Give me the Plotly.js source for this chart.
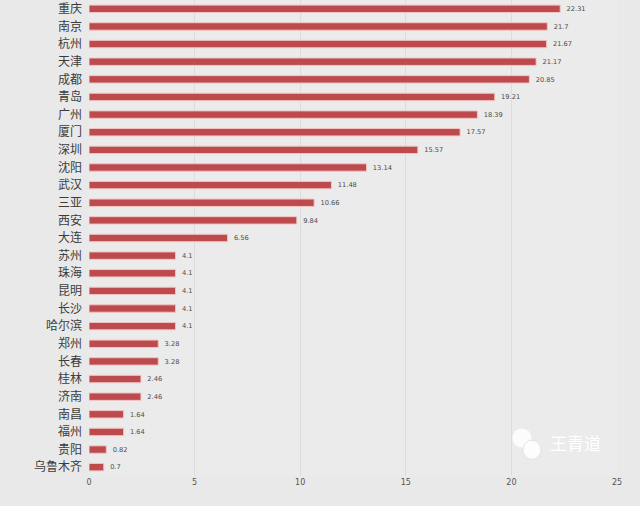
<!DOCTYPE html>
<html>
<head>
<meta charset="utf-8">
<script src="https://cdn.plot.ly/plotly-3.0.1.min.js"></script>
<style>
  html, body { margin: 0; padding: 0; background: #e9e9e9; }
  #myDiv { width: 640px; height: 506px; }
</style>
</head>
<body>
<div id="myDiv"></div>
<script>
var cities = ['重庆', '南京', '杭州', '天津', '成都', '青岛', '广州', '厦门', '深圳', '沈阳',
  '武汉', '三亚', '西安', '大连', '苏州', '珠海', '昆明', '长沙', '哈尔滨', '郑州',
  '长春', '桂林', '济南', '南昌', '福州', '贵阳', '乌鲁木齐'];
var values = [22.31, 21.7, 21.67, 21.17, 20.85, 19.21, 18.39, 17.57, 15.57, 13.14,
  11.48, 10.66, 9.84, 6.56, 4.1, 4.1, 4.1, 4.1, 4.1, 3.28,
  3.28, 2.46, 2.46, 1.64, 1.64, 0.82, 0.7];
var xTicks = [0, 5, 10, 15, 20, 25];

// labels get a couple of leading spaces so they sit a bit off the bar end
var bars = {
  type: 'bar',
  orientation: 'h',
  x: values,
  y: cities,
  text: values.map(function (v) { return '\u2002' + v; }),
  textposition: 'outside',
  cliponaxis: false,
  textfont: { family: 'DejaVu Sans, sans-serif', size: 9, color: '#4a4a4a' },
  marker: { color: '#bd4b4d', line: { color: '#f2c4c4', width: 1 } },
  width: 0.42,
  hoverinfo: 'x+y'
};

var layout = {
  width: 640,
  height: 506,
  margin: { l: 89, r: 23, t: 0, b: 30 },
  paper_bgcolor: '#e9e9e9',
  plot_bgcolor: '#ebebeb',
  showlegend: false,
  font: { family: 'Noto Sans CJK SC, sans-serif', color: '#333' },
  xaxis: {
    range: [0, 25],
    tickvals: xTicks,
    ticktext: xTicks.map(String),
    tickfont: { family: 'DejaVu Sans, sans-serif', size: 8, color: '#555' },
    showgrid: true,
    gridcolor: '#dcdcdc',
    gridwidth: 1,
    zeroline: false,
    showline: false,
    ticks: '',
    ticklen: 0,
    fixedrange: true
  },
  yaxis: {
    autorange: 'reversed',
    type: 'category',
    tickfont: { family: 'Noto Sans CJK SC, sans-serif', size: 12, color: '#3c3c3c' },
    showgrid: false,
    zeroline: false,
    showline: false,
    ticks: '',
    ticklabelstandoff: 6,
    fixedrange: true
  },
  shapes: [
    { type: 'circle', xref: 'paper', yref: 'paper', x0: 0.802, x1: 0.838, y0: 0.06, y1: 0.1,
      fillcolor: '#ffffff', line: { width: 0 }, opacity: 0.85 },
    { type: 'circle', xref: 'paper', yref: 'paper', x0: 0.822, x1: 0.856, y0: 0.035, y1: 0.075,
      fillcolor: '#ffffff', line: { color: '#e4e4e4', width: 1 }, opacity: 0.9 }
  ],
  annotations: [
    { text: '王青道', xref: 'paper', yref: 'paper', x: 0.87, y: 0.07,
      xanchor: 'left', yanchor: 'middle', showarrow: false,
      font: { family: 'Noto Sans CJK SC, sans-serif', size: 17, color: '#ffffff' } }
  ]
};

Plotly.newPlot('myDiv', [bars], layout, { displayModeBar: false, staticPlot: true });
</script>
</body>
</html>
